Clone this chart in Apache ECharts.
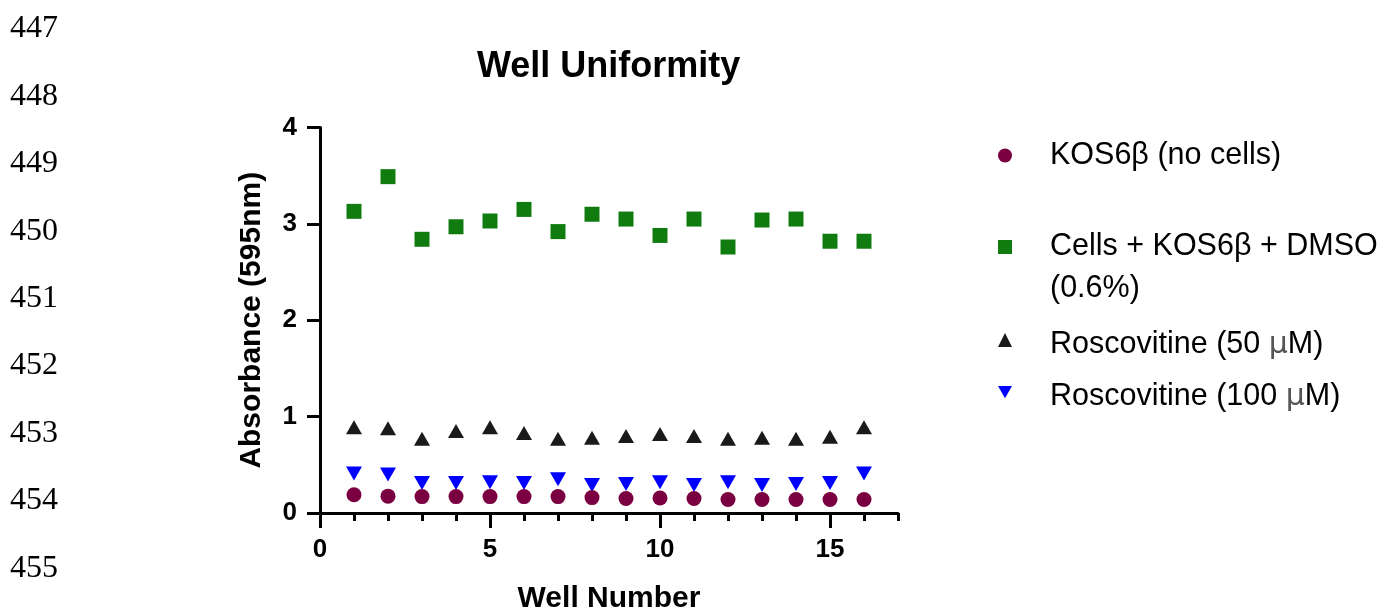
<!DOCTYPE html>
<html>
<head>
<meta charset="utf-8">
<script src="https://cdn.jsdelivr.net/npm/echarts@6/dist/echarts.min.js"></script>
<style>
html,body{margin:0;padding:0;background:#fff;}
#chart{width:1386px;height:611px;}
</style>
</head>
<body>
<div id="chart"></div>
<script>
// ---- data ----
const lineNumbers = ['447','448','449','450','451','452','453','454','455'];
const wells = [1,2,3,4,5,6,7,8,9,10,11,12,13,14,15,16];
const seriesNames = ['KOS6β (no cells)', 'Cells + KOS6β + DMSO (0.6%)', 'Roscovitine (50 μM)', 'Roscovitine (100 μM)'];
const noCells = [0.19,0.175,0.17,0.17,0.17,0.17,0.17,0.16,0.15,0.155,0.15,0.14,0.14,0.14,0.14,0.14];
const dmso    = [3.13,3.49,2.84,2.97,3.03,3.15,2.92,3.10,3.05,2.88,3.05,2.76,3.04,3.05,2.82,2.82];
const ros50   = [0.89,0.88,0.77,0.85,0.89,0.83,0.77,0.78,0.80,0.82,0.80,0.77,0.78,0.77,0.79,0.89];
const ros100  = [0.41,0.40,0.31,0.31,0.32,0.31,0.35,0.29,0.30,0.32,0.29,0.32,0.29,0.30,0.31,0.41];
const xMajorTicks = [0,5,10,15];

// ---- build ----
const pair = arr => wells.map((w,i) => [w, arr[i]]);
const FONT = 'Liberation Sans, Arial, Helvetica, sans-serif';
const DOWN_TRIANGLE = 'path://M0,0L16,0L8,14Z';

function legendFor(name, top, twoLines, textShift, icon) {
  const pt = twoLines ? 42 : textShift;
  const item = icon ? { name: name, icon: icon } : name;
  return {
    data: [item],
    left: 998,
    top: top,
    padding: 0,
    orient: 'vertical',
    itemWidth: 14,
    itemHeight: 14,
    selectedMode: false,
    formatter: function (n) {
      return n.replace(' (0.6%)', '\n(0.6%)').replace('μ', '{mu|μ}');
    },
    textStyle: {
      fontFamily: FONT,
      fontSize: 30.5,
      color: '#000',
      lineHeight: twoLines ? 42 : 30,
      padding: [pt, 0, 0, 33],
      rich: {
        mu: { fontFamily: 'DejaVu Sans', fontSize: 30, color: '#555', lineHeight: 30 }
      }
    }
  };
}

const axisColor = '#000';
const option = {
  animation: false,
  backgroundColor: '#fff',
  title: {
    text: 'Well Uniformity',
    left: 477,
    top: 49,
    padding: 0,
    textStyle: { fontFamily: FONT, fontSize: 36, fontWeight: 'bold', color: '#000' }
  },
  legend: [
    legendFor(seriesNames[0], 140, false, 0, null),
    legendFor(seriesNames[1], 184, true, 0, null),
    legendFor(seriesNames[2], 320, false, 10, null),
    legendFor(seriesNames[3], 372, false, 10, DOWN_TRIANGLE)
  ],
  grid: { left: 320, right: 488, top: 127.5, bottom: 98, containLabel: false, outerBoundsMode: 'none' },
  xAxis: [
    {
      type: 'value', min: 0, max: 17, interval: 1,
      name: 'Well Number', nameLocation: 'middle', nameGap: 71,
      nameTextStyle: { fontFamily: FONT, fontSize: 30, fontWeight: 'bold', color: '#000' },
      axisLine: { show: true, lineStyle: { color: axisColor, width: 3 } },
      axisTick: { show: true, length: 8, lineStyle: { color: axisColor, width: 3 } },
      axisLabel: { show: false },
      splitLine: { show: false }
    },
    {
      type: 'value', min: 0, max: 17, position: 'bottom',
      axisLine: { show: false },
      axisTick: { show: true, length: 15, customValues: xMajorTicks, lineStyle: { color: axisColor, width: 3 } },
      axisLabel: { show: true, customValues: xMajorTicks, margin: 24, fontFamily: FONT, fontSize: 26, fontWeight: 'bold', color: '#000' },
      splitLine: { show: false }
    }
  ],
  yAxis: {
    type: 'value', min: 0, max: 4, interval: 1,
    name: 'Absorbance (595nm)', nameLocation: 'middle', nameGap: 53,
    nameTextStyle: { fontFamily: FONT, fontSize: 30, fontWeight: 'bold', color: '#000' },
    axisLine: { show: true, lineStyle: { color: axisColor, width: 3 } },
    axisTick: { show: true, length: 13, lineStyle: { color: axisColor, width: 3 } },
    axisLabel: { margin: 23, fontFamily: FONT, fontSize: 26, fontWeight: 'bold', color: '#000' },
    splitLine: { show: false }
  },
  graphic: lineNumbers.map((t, i) => ({
    type: 'text',
    left: 10,
    top: 29 + i * 67.4 - 16,
    style: { text: t, fontFamily: 'Liberation Serif, Times New Roman, serif', fontSize: 32, fill: '#000', lineHeight: 32 }
  })),
  series: [
    { name: seriesNames[3], type: 'scatter', data: pair(ros100), symbol: 'triangle', symbolSize: [16, 14], symbolRotate: 180, itemStyle: { color: '#0000ff', opacity: 1 }, z: 2 },
    { name: seriesNames[2], type: 'scatter', data: pair(ros50), symbol: 'triangle', symbolSize: [16, 14], itemStyle: { color: '#1a1a1a', opacity: 1 }, z: 2 },
    { name: seriesNames[1], type: 'scatter', data: pair(dmso), symbol: 'rect', symbolSize: 15, itemStyle: { color: '#107c10', opacity: 1 }, z: 2 },
    { name: seriesNames[0], type: 'scatter', data: pair(noCells), symbol: 'circle', symbolSize: 15, itemStyle: { color: '#7b0041', opacity: 1 }, z: 3 }
  ]
};

const chart = echarts.init(document.getElementById('chart'), null, { renderer: 'canvas' });
chart.setOption(option);
</script>
</body>
</html>
